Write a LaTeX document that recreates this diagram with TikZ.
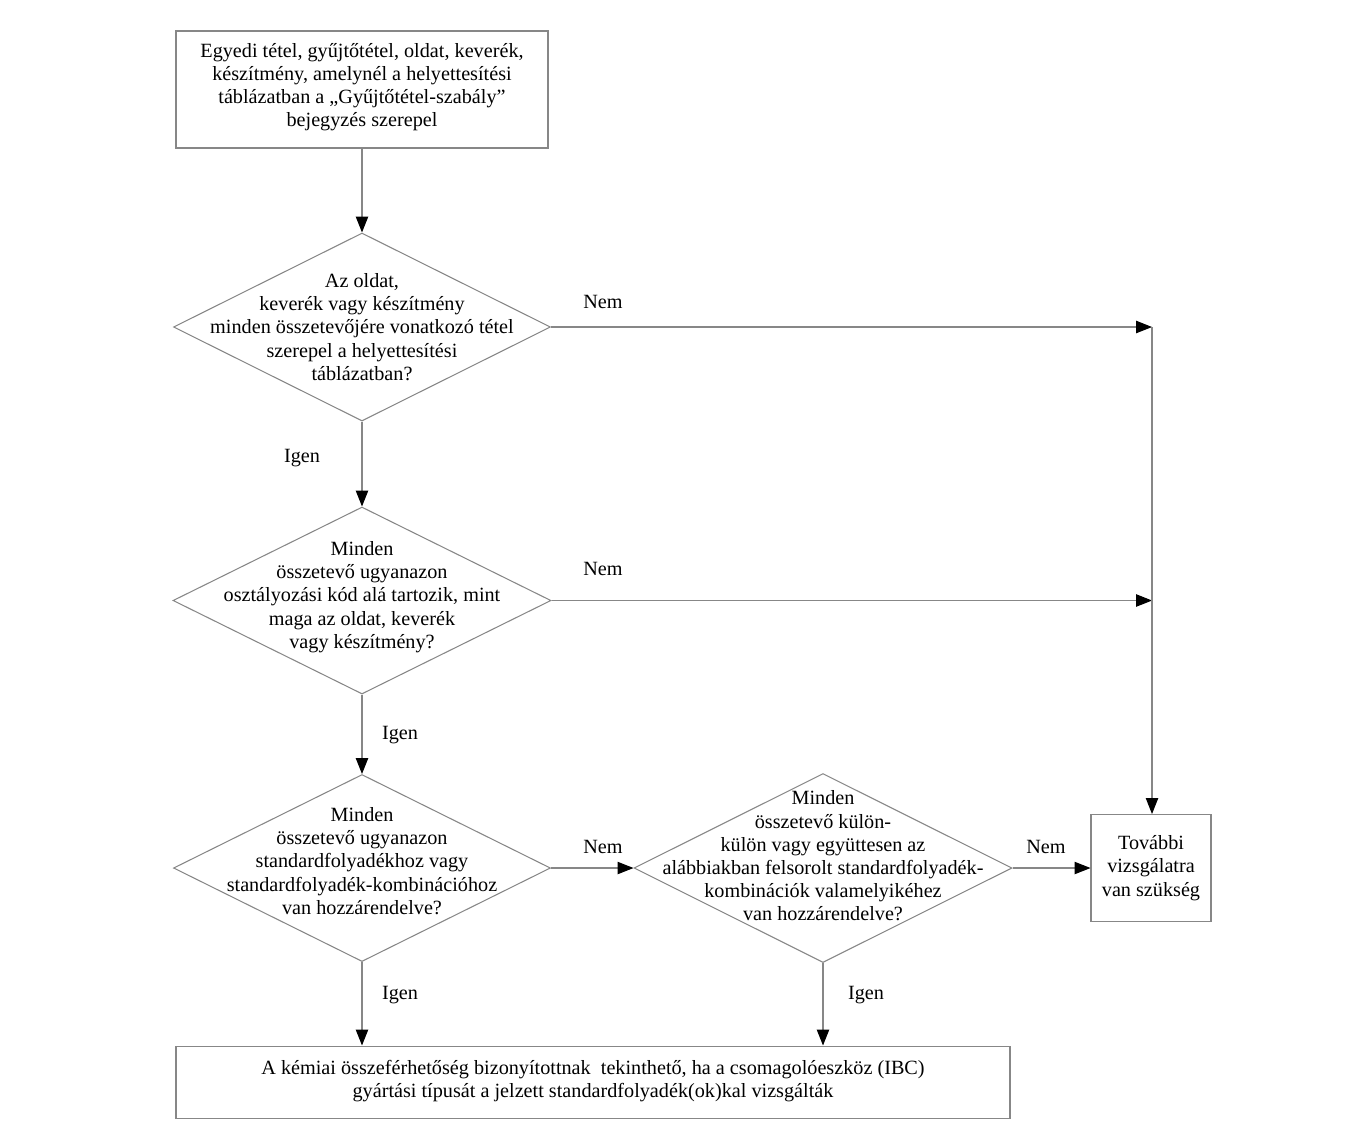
\documentclass[tikz,border=0pt]{standalone}
\usepackage{fontspec}
\setmainfont{Liberation Serif}
\usetikzlibrary{arrows.meta,shapes.geometric}
\definecolor{linegray}{RGB}{135,135,135}
\tikzset{
  x=0.02cm, y=-0.02cm,
  every node/.style={font=\fontsize{11.5pt}{13.2pt}\selectfont, text=black},
  boxnode/.style={draw=linegray, line width=0.6pt, rectangle, inner sep=0pt},
  dianode/.style={draw=linegray, line width=0.6pt, diamond, inner sep=0pt},
  txt/.style={align=center, inner sep=0pt},
  lbl/.style={inner sep=0pt},
  conn/.style={draw=linegray, line width=0.6pt, -{Triangle[length=9pt,width=7pt,color=black,fill=black]}},
  plain/.style={draw=linegray, line width=0.6pt}
}
\begin{document}
\begin{tikzpicture}
\useasboundingbox (0,0) rectangle (1361,1134);
% boxes
\node[boxnode, minimum width=372*0.02cm, minimum height=117*0.02cm] (top) at (362,89.5) {};
\node[txt] at (362,87) {Egyedi tétel, gyűjtőtétel, oldat, keverék,\\ készítmény, amelynél a helyettesítési\\ táblázatban a „Gyűjtőtétel-szabály”\\ bejegyzés szerepel};

\node[dianode, minimum width=377*0.02cm, minimum height=188*0.02cm] (d1) at (362,327) {};
\node[txt] at (362,327) {Az oldat,\\ keverék vagy készítmény\\ minden összetevőjére vonatkozó tétel\\ szerepel a helyettesítési\\ táblázatban?};

\node[dianode, minimum width=378*0.02cm, minimum height=187*0.02cm] (d2) at (362,600.5) {};
\node[txt] at (362,597) {Minden\\ összetevő ugyanazon\\ osztályozási kód alá tartozik, mint\\ maga az oldat, keverék\\ vagy készítmény?};

\node[dianode, minimum width=377*0.02cm, minimum height=187*0.02cm] (d3) at (362,868) {};
\node[txt] at (362,861) {Minden\\ összetevő ugyanazon\\ standardfolyadékhoz vagy\\ standardfolyadék-kombinációhoz\\ van hozzárendelve?};

\node[dianode, minimum width=378*0.02cm, minimum height=189*0.02cm] (d4) at (823,868) {};
\node[txt] at (823,856) {Minden\\ összetevő külön-\\ külön vagy együttesen az\\ alábbiakban felsorolt standardfolyadék-\\ kombinációk valamelyikéhez\\ van hozzárendelve?};

\node[boxnode, minimum width=120*0.02cm, minimum height=107*0.02cm] (rb) at (1151,868) {};
\node[txt] at (1151,868) {További\\ vizsgálatra\\ van szükség};

\node[boxnode, minimum width=834*0.02cm, minimum height=72*0.02cm] (bb) at (593,1082) {};
\node[txt] at (593,1081) {A kémiai összeférhetőség bizonyítottnak\ \ tekinthető, ha a csomagolóeszköz (IBC)\\ gyártási típusát a jelzett standardfolyadék(ok)kal vizsgálták};

% junctions
\coordinate (j1) at (1152,327);
\coordinate (j2) at (1152,600.5);

% connectors
\draw[conn] (top.south) -- (d1.north);
\draw[conn] (d1.south) -- (d2.north);
\draw[conn] (d2.south) -- (d3.north);
\draw[conn] (d1.east) -- (j1);
\draw[conn] (d2.east) -- (j2);
\draw[conn] (j1) -- (j1 |- rb.north);
\draw[conn] (d3.east) -- (d4.west);
\draw[conn] (d4.east) -- (rb.west);
\draw[conn] (d3.south) -- (d3.south |- bb.north);
\draw[conn] (d4.south) -- (d4.south |- bb.north);

% labels
\node[lbl] (n1) at (603,302) {Nem};
\node[lbl] (n2) at (603,569) {Nem};
\node[lbl] (n3) at (603,847) {Nem};
\node[lbl] (n4) at (1046,847) {Nem};
\node[lbl] (i1) at (302,458) {Igen};
\node[lbl] (i2) at (400,735) {Igen};
\node[lbl] (i3) at (400,995) {Igen};
\node[lbl] (i4) at (866,995) {Igen};
\end{tikzpicture}
\end{document}
